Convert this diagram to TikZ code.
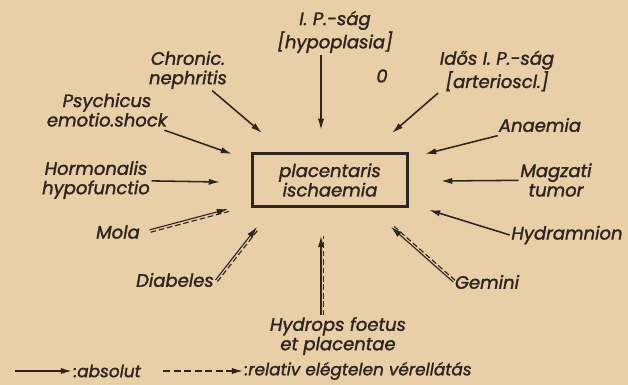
\documentclass[tikz,border=0pt]{standalone}
\usepackage{fontspec}
\setmainfont{Poppins}[FakeBold=1.6]
\usetikzlibrary{positioning, arrows.meta, calc}
\definecolor{paper}{RGB}{233,207,168}
\definecolor{ink}{RGB}{45,36,30}

\begin{document}
\begin{tikzpicture}[x=0.025cm, y=-0.025cm,
  lbl/.style={text=ink, font=\itshape\fontsize{12.8}{13.8}\selectfont, align=center, inner sep=1pt},
  abs/.style={draw=ink, line width=1.1pt, -{Latex[length=8pt, width=4.5pt]}},
  rel/.style={draw=ink, line width=0.8pt, -{Latex[length=8pt, width=4.5pt]},
    postaction={draw=ink, -, line width=0.8pt, dash pattern=on 4pt off 2pt, transform canvas={shift={#1}}}}]
\useasboundingbox[fill=paper] (0,0) rectangle (628,385);

% Centre
\node[draw=ink, line width=2.4pt, minimum width=155*0.025cm, minimum height=53*0.025cm, lbl] (isch) at (330,180) {placentaris\\ischaemia};

% Causes
\node[lbl] (ip) at (335,32) {I. P.-ság\\{[}hypoplasia{]}};
\node[lbl] (zero) at (382,76) {0};
\node[lbl] (idos) at (497,71) {Idős I. P.-ság\\{[}arterioscl.{]}};
\node[lbl] (anaem) at (540,125) {Anaemia};
\node[lbl] (magz) at (556,180) {Magzati\\tumor};
\node[lbl] (hydr) at (567,235) {Hydramnion};
\node[lbl] (gem) at (487,282) {Gemini};
\node[lbl] (hydrops) at (338,336) {Hydrops foetus\\et placentae};
\node[lbl] (diab) at (175,280) {Diabeles};
\node[lbl] (mola) at (118,232) {Mola};
\node[lbl] (horm) at (96,180) {Hormonalis\\hypofunctio};
\node[lbl] (psych) at (107,110) {Psychicus\\emotio.shock};
\node[lbl] (chron) at (188,70) {Chronic.\\nephritis};

% Arrow ends
\coordinate (tIp) at (321,130);
\coordinate (tIdos) at (392,133);
\coordinate (tAnaem) at (425,154);
\coordinate (tMagz) at (441,181);
\coordinate (tHydr) at (429,210);
\coordinate (tGem) at (391,227);
\coordinate (tHydrops) at (321,236);
\coordinate (tDiab) at (257,227);
\coordinate (tMola) at (228,209);
\coordinate (tHorm) at (220,182);
\coordinate (tPsych) at (232,154);
\coordinate (tChron) at (262,133);

% Absolute
\draw[abs] (ip.south -| tIp) -- (tIp);
\draw[abs] (idos.south west) -- (tIdos);
\draw[abs, shorten <=6pt] (anaem) -- (tAnaem);
\draw[abs] (magz) -- (tMagz);
\draw[abs] (hydr.west) -- (tHydr);
\draw[abs] (horm) -- (tHorm);
\draw[abs, shorten <=4pt] (psych) -- (tPsych);
\draw[abs] (chron) -- (tChron);

% Relative
\draw[rel={(1.3pt,1.2pt)}] (gem.west) -- (tGem);
\draw[rel={(1.8pt,0pt)}] (hydrops.north -| tHydrops) -- (tHydrops);
\draw[rel={(1.4pt,-1.1pt)}] (diab.east) -- (tDiab);
\draw[rel={(0.7pt,-1.7pt)}, shorten <=6pt] (mola.east) -- (tMola);

% Legend
\node[lbl, font=\itshape\fontsize{12}{13}\selectfont, anchor=west] (labs) at (72,371) {:absolut};
\node[lbl, font=\itshape\fontsize{12}{13}\selectfont, anchor=west] (lrel) at (243,371) {:relativ elégtelen vérellátás};
\coordinate (la) at (15,371);
\coordinate (lr) at (163,371);
\draw[abs] (la) -- (labs.west);
\draw[abs, line width=0.9pt, dash pattern=on 5pt off 2.5pt] (lr) -- (lrel.west);
\end{tikzpicture}
\end{document}
